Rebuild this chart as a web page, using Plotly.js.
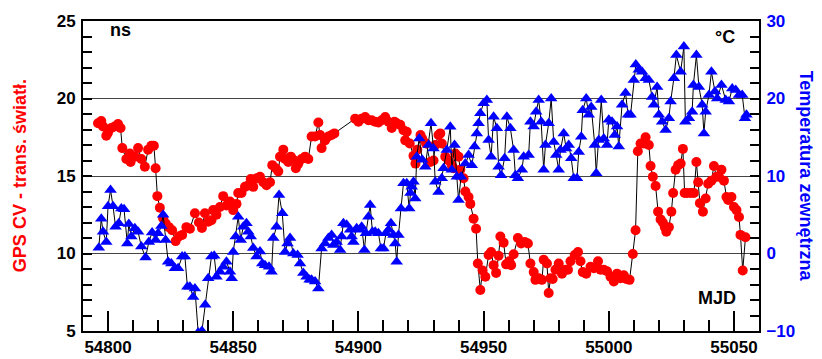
<!DOCTYPE html>
<html>
<head>
<meta charset="utf-8">
<script src="https://cdn.plot.ly/plotly-3.0.1.min.js"></script>
<style>html,body{margin:0;padding:0;background:#fff;}#chart{width:822px;height:359px;}</style>
</head>
<body>
<div id="chart"></div>
<script>
// GPS CV - time transfer (ns) vs MJD
const redMJD = [54796,54797.3,54798,54799.3,54800,54801.3,54802.7,54804,54805,54805.7,54807.3,54808.7,54809,54810.7,54812,54813.3,54814.7,54816,54817.3,54818.3,54819,54819.7,54820.7,54822,54823,54824.3,54825.6,54827,54828.3,54829.6,54831.3,54832.7,54834.7,54836.3,54837.5,54838.7,54840,54841.3,54842,54843.3,54844.7,54846,54847.3,54848.7,54850,54851.3,54852,54853.3,54854.7,54856,54857,54858,54859.3,54860.7,54862,54863.3,54864.7,54865.6,54867,54868,54868.7,54870,54870.7,54872,54873,54874,54875,54876,54877.3,54878.7,54880,54881.3,54882.7,54884,54884.7,54885.3,54886.7,54888,54889.3,54890.4,54898.7,54900,54901.3,54902.7,54904,54905.3,54906.7,54908,54909.3,54910.7,54912,54913.3,54914.4,54915.3,54916.7,54918,54918.7,54919.3,54920.5,54922,54922.8,54923.5,54924.8,54925.5,54927,54928.7,54930,54930.7,54932,54932.7,54933.3,54934.7,54936,54937.3,54938,54938.7,54940,54940.7,54942,54942.7,54944,54944.7,54946,54947,54947.7,54948.7,54949.6,54950.7,54952,54953,54954,54955,54956,54956.7,54958,54959,54960.3,54961,54962,54963.7,54965,54966.4,54967.7,54968.7,54970,54970.7,54972,54973.3,54974,54975.3,54976,54976.7,54977.6,54978.7,54980,54981.3,54982.7,54983.7,54984.7,54986.4,54987.7,54988.7,54989.6,54991,54992.7,54994,54995.7,54996.7,54998,54999.3,55000.7,55002,55003.3,55004.7,55006,55007,55008.3,55009.6,55010.7,55011.6,55012.7,55014,55014.7,55016,55016.7,55017.6,55018.7,55019.7,55020.7,55021.6,55022.4,55023,55024,55025,55025.7,55026.7,55027.7,55028.7,55029.6,55030.3,55031.3,55032.7,55034,55035,55035.7,55036.4,55037.6,55038.7,55039.7,55041,55042,55043,55044,55045,55046,55047,55047.7,55049,55050,55051,55052,55052.6,55053.5,55054.6];
const redNs = [18.4,18.55,18.2,17.6,17.8,18.1,18.2,18.35,18.1,16.8,16.1,16.45,15.9,16.25,16.8,16.1,15.6,16.7,16.95,16.95,15.5,13.7,12.95,12.27,11.95,11.7,11.5,10.8,11.1,11.2,11.7,11.6,12.6,12.0,11.65,12.6,12.05,12.15,12.8,12.5,13.0,13.7,13.1,13.35,12.8,13.2,13.9,13.9,14.3,14.4,14.8,14.3,14.85,14.95,14.6,14.4,14.6,15.7,15.5,15.3,16.25,16.7,16.1,15.9,16.25,16.05,15.5,15.8,16.1,16.25,16.1,17.55,17.55,18.45,17.65,16.8,17.3,17.55,17.65,17.75,18.7,18.5,18.7,18.8,18.6,18.6,18.5,18.45,18.6,18.8,18.5,18.1,18.5,18.4,18.3,17.95,17.3,17.85,17.1,16.3,15.8,16.7,17.65,17.4,17.1,15.9,16.0,17.0,17.65,17.75,17.1,16.25,16.0,15.7,15.5,16.45,16.25,15.4,14.85,14.0,13.65,13.2,12.25,11.6,9.35,7.65,8.9,8.5,9.9,10.1,9.25,8.75,9.85,11.1,10.7,9.3,9.5,9.25,9.95,11.0,10.65,10.75,10.65,9.35,8.8,8.3,8.4,8.3,9.6,9.35,7.45,8.4,8.35,8.95,9.35,8.7,8.95,8.95,9.5,9.9,10.1,9.5,8.8,8.7,9.15,9.05,9.5,8.95,8.95,8.85,8.5,8.2,8.7,8.4,8.6,8.35,8.3,9.97,11.5,16.6,17.1,17.1,17.5,17.0,15.65,14.95,14.35,12.7,12.2,12.0,11.7,11.4,11.7,12.7,13.9,15.4,15.7,15.8,16.75,13.9,13.9,13.9,13.9,15.9,14.6,13.25,12.7,13.55,14.5,14.7,15.65,14.95,14.95,15.4,14.7,13.65,13.45,13.65,13.0,12.8,12.35,11.2,8.9,11.05];

// Outside temperature (°C) vs MJD
const blueMJD = [54796.3,54797.3,54798,54799.3,54800,54801,54802,54803,54804.3,54805.3,54806.4,54807.7,54808.3,54809.3,54810.7,54812,54813.3,54815,54816.3,54817.6,54819,54820,54821.3,54822,54823,54824,54825.3,54826.7,54828,54829.6,54830.7,54831.7,54832.7,54834,54834.7,54836,54837.5,54838.8,54840,54841.3,54842.4,54843.3,54844.7,54846,54847.3,54848.7,54849.4,54850,54851,54852,54853,54854,54855.3,54856,54857,54858,54859.3,54860.7,54861.6,54862.7,54864.3,54865.3,54866,54867.3,54868.3,54869.6,54870.7,54871.7,54872.7,54874,54875.7,54876.7,54878,54879.3,54880.5,54881.3,54882.7,54884,54885.3,54886.7,54888,54889.3,54890,54891.3,54892.7,54893.3,54894,54895.3,54896.7,54897.3,54898,54899.3,54900.7,54901.3,54902.4,54903,54904,54904.7,54905.6,54906.7,54908,54909,54910,54911,54912,54913,54914,54914.7,54915.3,54916,54917,54918,54919.3,54920.3,54920.8,54921.3,54922,54922.7,54923.3,54924.3,54925.5,54926.7,54928,54929,54930,54930.7,54932,54933.3,54934,54935.3,54936.7,54937.3,54938.4,54939.3,54940,54941,54942.7,54944,54945.3,54946.4,54947.3,54948,54948.7,54950,54951.3,54952,54953,54954,54955.3,54956,54957,54958.4,54959.3,54960.7,54962,54962.7,54963.7,54965.3,54966,54968,54968.7,54970,54971,54972,54973,54974,54974.7,54976,54977,54978,54979,54980,54980.7,54982,54983,54984,54985,54986,54987.3,54988,54989,54989.6,54991,54992,54993,54994.4,54995,54996,54997,54998,54999.3,55000,55001.3,55002.4,55003.3,55004,55005.3,55006.7,55007.7,55008.7,55010,55010.8,55012,55013.3,55014.7,55016,55017.3,55018,55019.3,55020,55021.3,55022.7,55024,55024.7,55026,55027,55028.7,55030,55030.6,55032,55033.3,55033.8,55035,55036,55037.3,55038,55038.7,55040,55041,55042.4,55043.3,55045,55046.7,55048,55049.3,55050.7,55052,55053.3,55054.4,55055];
const blueTemp = [0.75,4.5,2.8,1.5,6.1,8.2,6.1,3.45,3.9,5.8,5.7,1.3,3.8,2.2,3.25,2.8,0.9,-0.5,1.5,2.7,1.75,2.6,3.55,5.0,1.75,-1.05,-1.3,-1.9,-1.9,-0.4,-0.4,-4.3,-4.3,-5.6,-4.5,-10.2,-10.0,-6.6,-3.2,-0.4,-0.3,-3.0,-2.35,-1.7,-1.05,-2.35,-3.2,0.2,2.2,4.75,1.75,3.45,3.9,2.8,2.2,0.7,-0.4,0.25,-1.3,-1.5,-1.7,-2.35,2.0,3.45,7.55,5.2,0.2,1.3,2.0,0.0,-0.2,-1.3,-2.5,-3.0,-3.4,-3.4,-3.6,-4.5,0.65,1.3,2.0,2.4,1.1,1.5,0.45,2.2,3.9,3.7,3.05,2.2,1.5,3.25,3.05,3.45,0.45,2.6,4.75,6.25,2.8,2.8,2.6,0.65,0.65,2.6,3.05,3.9,2.4,1.3,-1.05,2.4,5.8,9.05,9.05,5.8,7.8,8.6,9.25,7.1,12.5,14.85,12.1,11.2,14.0,16.8,13.55,9.25,7.95,9.7,11.0,13.35,16.35,10.8,14.0,9.9,6.9,9.9,11.6,12.7,11.4,13.8,15.5,16.8,18.1,19.4,19.8,14.65,12.5,17.65,16.15,11.2,10.1,12.3,17.65,16.15,13.35,10.1,9.7,10.8,12.5,12.7,17.0,16.4,18.3,19.8,17.0,10.8,14.0,16.8,20.0,14.4,12.7,10.8,13.35,15.5,13.55,14.0,12.3,9.7,9.7,13.1,15.05,18.5,20.0,17.9,18.9,14.0,10.35,14.65,19.8,14.85,14.0,17.25,17.0,15.3,16.4,13.8,19.2,20.7,17.9,17.9,22.4,24.4,23.7,23.45,22.6,22.4,20.2,19.2,21.5,17.9,17.0,15.95,17.45,19.6,22.6,25.6,23.45,26.7,17.0,17.45,18.3,21.75,25.6,21.5,19.2,15.5,18.3,20.45,23.45,20.9,20.0,21.75,19.8,19.6,21.3,21.1,20.45,20.45,17.45,17.9];

const xTicks = [54800,54850,54900,54950,55000,55050];

const FONT = 'Liberation Sans, Arial, Helvetica, sans-serif';

const traces = [
  {
    x: blueMJD, y: blueTemp, yaxis: 'y2', type: 'scatter', mode: 'lines+markers',
    line: {color: '#000000', width: 1},
    marker: {symbol: 'triangle-up', color: '#0000ff', size: 11, line: {width: 0}},
    hoverinfo: 'skip', showlegend: false
  },
  {
    x: redMJD, y: redNs, yaxis: 'y', type: 'scatter', mode: 'lines+markers',
    line: {color: '#000000', width: 1},
    marker: {symbol: 'circle', color: '#ff0000', size: 10, line: {width: 0}},
    hoverinfo: 'skip', showlegend: false
  }
];

const layout = {
  width: 822, height: 359,
  margin: {l: 83, r: 63, t: 21, b: 28},
  paper_bgcolor: '#ffffff', plot_bgcolor: '#ffffff',
  showlegend: false,
  font: {family: FONT, size: 17, color: '#000'},
  xaxis: {
    range: [54790, 55060],
    tickvals: xTicks, ticktext: xTicks.map(String),
    ticks: 'inside', ticklen: 20, tickwidth: 2, tickcolor: '#000',
    minor: {dtick: 10, tick0: 54800, ticks: 'inside', ticklen: 11, tickwidth: 2, tickcolor: '#000', showgrid: false},
    showline: true, linewidth: 2, linecolor: '#000', mirror: true,
    showgrid: false, zeroline: false,
    tickfont: {family: FONT, size: 17, color: '#000', weight: 'bold'},
    ticklabelstandoff: 0
  },
  yaxis: {
    range: [5, 25], dtick: 5, tick0: 5,
    ticks: 'inside', ticklen: 9, tickwidth: 2, tickcolor: '#000',
    minor: {dtick: 1, ticks: 'inside', ticklen: 9, tickwidth: 2, tickcolor: '#000', showgrid: false},
    showline: true, linewidth: 2, linecolor: '#000',
    showgrid: true, gridcolor: '#444', gridwidth: 1, zeroline: false,
    tickfont: {family: FONT, size: 17, color: '#000', weight: 'bold'},
    ticklabelstandoff: 2
  },
  yaxis2: {
    range: [-10, 30], dtick: 10, tick0: -10,
    overlaying: 'y', side: 'right', anchor: 'x',
    ticks: 'inside', ticklen: 9, tickwidth: 2, tickcolor: '#000',
    minor: {dtick: 2, ticks: 'inside', ticklen: 9, tickwidth: 2, tickcolor: '#000', showgrid: false},
    showline: true, linewidth: 2, linecolor: '#000',
    showgrid: false, zeroline: false,
    tickfont: {family: FONT, size: 17, color: '#0000ff', weight: 'bold'},
    ticklabelstandoff: 2
  },
  annotations: [
    {text: '<b>GPS CV - trans. światł.</b>', xref: 'paper', yref: 'paper', x: -0.093, y: 0.5,
     xanchor: 'center', yanchor: 'middle', textangle: -90, showarrow: false,
     font: {family: FONT, size: 18, color: '#ff0000'}},
    {text: '<b>Temperatura zewnętrzna</b>', xref: 'paper', yref: 'paper', x: 1.07, y: 0.5,
     xanchor: 'center', yanchor: 'middle', textangle: 90, showarrow: false,
     font: {family: FONT, size: 18, color: '#0000ff'}},
    {text: '<b>ns</b>', xref: 'paper', yref: 'paper', x: 0.056, y: 0.971,
     xanchor: 'center', yanchor: 'middle', showarrow: false, font: {family: FONT, size: 18, color: '#000'}},
    {text: '<b>°C</b>', xref: 'paper', yref: 'paper', x: 0.95, y: 0.948,
     xanchor: 'center', yanchor: 'middle', showarrow: false, font: {family: FONT, size: 18, color: '#000'}},
    {text: '<b>MJD</b>', xref: 'paper', yref: 'paper', x: 0.938, y: 0.106,
     xanchor: 'center', yanchor: 'middle', showarrow: false, font: {family: FONT, size: 18, color: '#000'}}
  ]
};

Plotly.newPlot('chart', traces, layout, {staticPlot: true, displayModeBar: false});
</script>
</body>
</html>
